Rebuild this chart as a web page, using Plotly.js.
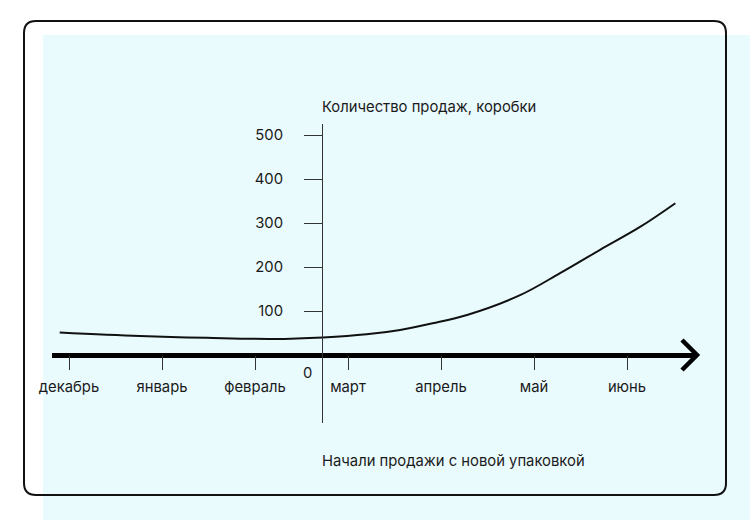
<!DOCTYPE html>
<html>
<head>
<meta charset="utf-8">
<script src="https://cdn.plot.ly/plotly-3.0.1.min.js"></script>
<style>
  html, body { margin: 0; padding: 0; background: #ffffff; }
  #chart { width: 750px; height: 520px; }
</style>
</head>
<body>
<div id="chart"></div>
<script>
// ---- data ----
const monthLabels = ['декабрь', 'январь', 'февраль', 'март', 'апрель', 'май', 'июнь'];
const monthTicks = [0, 1, 2, 3, 4, 5, 6];            // month index (декабрь = 0)
const salesMonth = [-0.1, 0.76, 1.48, 2.19, 2.73, 3.2, 3.56, 3.91, 4.28, 4.85, 5.28, 5.71, 6.14, 6.52];
const salesBoxes = [51, 43, 39, 36.5, 40, 47, 57, 72, 91, 136, 186, 239, 291, 345];
const yTickVals = [100, 200, 300, 400, 500];
const newPackageMonth = 2.72;                        // start of sales with new packaging
const yTitle = 'Количество продаж, коробки';
const noteText = 'Начали продажи с новой упаковкой';

// ---- layout geometry ----
const W = 750, H = 520;
const M = { l: 52, r: 53, t: 124, b: 97 };
const pw = W - M.l - M.r, ph = H - M.t - M.b;
const xRange = [-0.1828, 6.7527];
const yRange = [-154.5, 525];
const px = v => (v - M.l) / pw;
const py = v => (H - M.b - v) / ph;
const yAxisPos = (newPackageMonth - xRange[0]) / (xRange[1] - xRange[0]);
const xAxisPos = (0 - yRange[0]) / (yRange[1] - yRange[0]);

function roundRect(x0, y0, x1, y1, r) {
  const X = px, Y = py;
  return 'M' + X(x0 + r) + ',' + Y(y0) +
    ' L' + X(x1 - r) + ',' + Y(y0) +
    ' Q' + X(x1) + ',' + Y(y0) + ' ' + X(x1) + ',' + Y(y0 + r) +
    ' L' + X(x1) + ',' + Y(y1 - r) +
    ' Q' + X(x1) + ',' + Y(y1) + ' ' + X(x1 - r) + ',' + Y(y1) +
    ' L' + X(x0 + r) + ',' + Y(y1) +
    ' Q' + X(x0) + ',' + Y(y1) + ' ' + X(x0) + ',' + Y(y1 - r) +
    ' L' + X(x0) + ',' + Y(y0 + r) +
    ' Q' + X(x0) + ',' + Y(y0) + ' ' + X(x0 + r) + ',' + Y(y0) + ' Z';
}

const FONT = 'Inter, "Noto Sans", sans-serif';
const FS = 14.8;

const trace = {
  x: salesMonth, y: salesBoxes, type: 'scatter', mode: 'lines',
  line: { color: '#111111', width: 2, shape: 'spline', smoothing: 1 },
  hoverinfo: 'skip', showlegend: false
};

const layout = {
  width: W, height: H,
  margin: M,
  paper_bgcolor: '#ffffff',
  plot_bgcolor: 'rgba(0,0,0,0)',
  font: { family: FONT, size: FS, color: '#1a1a1a' },
  showlegend: false,
  xaxis: {
    range: xRange, anchor: 'free', position: xAxisPos,
    showgrid: false, zeroline: false, showline: false,
    tickmode: 'array', tickvals: monthTicks, ticktext: monthLabels,
    ticks: 'outside', ticklen: 14, tickwidth: 1, tickcolor: '#333333',
    ticklabelstandoff: 4,
    tickfont: { family: FONT, size: FS, color: '#1a1a1a' }
  },
  yaxis: {
    range: yRange, anchor: 'free', position: yAxisPos,
    showgrid: false,
    zeroline: true, zerolinewidth: 5, zerolinecolor: '#000000',
    showline: true, linecolor: '#333333', linewidth: 1,
    tickmode: 'array', tickvals: yTickVals,
    ticks: 'outside', ticklen: 18, tickwidth: 1, tickcolor: '#333333',
    ticklabelstandoff: 18,
    tickfont: { family: FONT, size: FS, color: '#1a1a1a' }
  },
  shapes: [
    { type: 'rect', xref: 'paper', yref: 'paper', layer: 'below',
      x0: px(43), x1: px(755), y0: py(35), y1: py(525),
      fillcolor: '#eafbfe', line: { width: 0 } },
    { type: 'path', xref: 'paper', yref: 'paper', layer: 'above',
      path: roundRect(24, 21, 726, 495, 12),
      line: { color: '#111111', width: 2 } },
    { type: 'path', xref: 'paper', yref: 'y', layer: 'above',
      xsizemode: 'pixel', xanchor: 1, ysizemode: 'pixel', yanchor: 0,
      path: 'M-15,15 L0,0 L-15,-15',
      line: { color: '#000000', width: 4.5 } }
  ],
  annotations: [
    { xref: 'paper', yref: 'paper', x: yAxisPos, y: 1, xanchor: 'left', yanchor: 'bottom',
      xshift: -2, yshift: 6, showarrow: false, text: yTitle,
      font: { family: FONT, size: FS, color: '#1a1a1a' } },
    { xref: 'paper', yref: 'paper', x: yAxisPos, y: py(461), xanchor: 'left', yanchor: 'middle',
      xshift: -2, showarrow: false, text: noteText,
      font: { family: FONT, size: FS, color: '#1a1a1a' } },
    { xref: 'x', yref: 'y', x: newPackageMonth, y: 0, xanchor: 'right', yanchor: 'middle',
      xshift: -8, yshift: -18, showarrow: false, text: '0',
      font: { family: FONT, size: FS, color: '#1a1a1a' } }
  ]
};

Plotly.newPlot('chart', [trace], layout, { staticPlot: true, displayModeBar: false });
</script>
</body>
</html>
